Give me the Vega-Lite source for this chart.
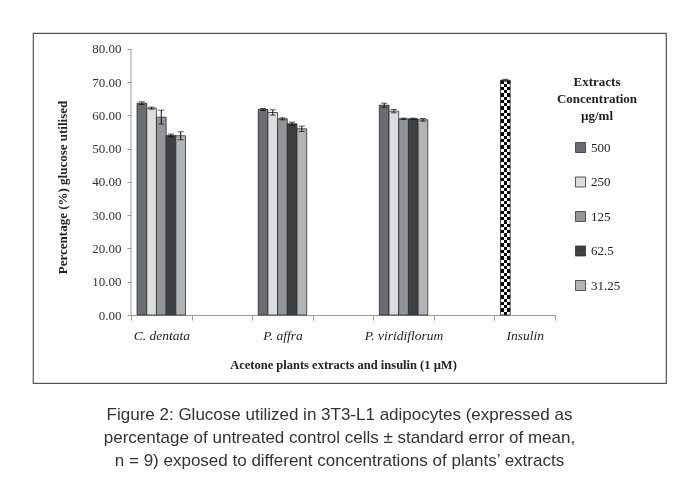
{
  "$schema": "https://vega.github.io/schema/vega-lite/v6.json",
  "width": 633,
  "height": 350,
  "autosize": {"type": "none"},
  "padding": {"left": 33, "top": 33, "right": 11, "bottom": 104},
  "background": "white",
  "config": {
    "view": {"stroke": "#555555", "strokeWidth": 1.2},
    "font": "Liberation Serif",
    "axis": {"grid": false, "labelFont": "Liberation Serif", "titleFont": "Liberation Serif"},
    "legend": {"labelFont": "Liberation Serif", "titleFont": "Liberation Serif"}
  },
  "title": {
    "text": [
      "Figure 2: Glucose utilized in 3T3-L1 adipocytes (expressed as",
      "percentage of untreated control cells ± standard error of mean,",
      "n = 9) exposed to different concentrations of plants’ extracts"
    ],
    "orient": "bottom",
    "anchor": "middle",
    "frame": "group",
    "offset": 24,
    "dx": -10,
    "font": "Liberation Sans",
    "fontSize": 17,
    "fontWeight": "normal",
    "color": "#333333",
    "lineHeight": 23
  },
  "data": {
    "values": [
      {"extract": "C. dentata", "conc": "500", "value": 63.7, "lo": 63.3, "hi": 64.1},
      {"extract": "C. dentata", "conc": "250", "value": 62.2, "lo": 61.9, "hi": 62.5},
      {"extract": "C. dentata", "conc": "125", "value": 59.5, "lo": 57.4, "hi": 61.6},
      {"extract": "C. dentata", "conc": "62.5", "value": 54.0, "lo": 53.6, "hi": 54.4},
      {"extract": "C. dentata", "conc": "31.25", "value": 53.9, "lo": 52.7, "hi": 55.1},
      {"extract": "P. affra", "conc": "500", "value": 61.8, "lo": 61.5, "hi": 62.1},
      {"extract": "P. affra", "conc": "250", "value": 60.9, "lo": 60.1, "hi": 61.7},
      {"extract": "P. affra", "conc": "125", "value": 59.0, "lo": 58.7, "hi": 59.3},
      {"extract": "P. affra", "conc": "62.5", "value": 57.5, "lo": 57.0, "hi": 58.0},
      {"extract": "P. affra", "conc": "31.25", "value": 56.0, "lo": 55.2, "hi": 56.8},
      {"extract": "P. viridiflorum", "conc": "500", "value": 63.1, "lo": 62.5, "hi": 63.7},
      {"extract": "P. viridiflorum", "conc": "250", "value": 61.3, "lo": 60.8, "hi": 61.8},
      {"extract": "P. viridiflorum", "conc": "125", "value": 59.0, "lo": 58.8, "hi": 59.2},
      {"extract": "P. viridiflorum", "conc": "62.5", "value": 59.0, "lo": 58.8, "hi": 59.2},
      {"extract": "P. viridiflorum", "conc": "31.25", "value": 58.7, "lo": 58.3, "hi": 59.1},
      {"extract": "Insulin", "conc": "500", "value": 70.6, "lo": 70.3, "hi": 70.9}
    ]
  },
  "encoding": {
    "x": {
      "field": "extract",
      "type": "nominal",
      "title": "Acetone plants extracts and insulin (1 µM)",
      "scale": {
        "domain": ["C. dentata", " ", "P. affra", "  ", "P. viridiflorum", "   ", "Insulin"],
        "range": [98, 522],
        "paddingInner": 0,
        "paddingOuter": 0
      },
      "axis": {
        "orient": "bottom",
        "offset": -68,
        "tickBand": "extent",
        "labelAngle": 0,
        "labelFontSize": 13.5,
        "labelFontStyle": "italic",
        "labelColor": "#222222",
        "labelPadding": 8,
        "tickSize": 5,
        "tickColor": "#999999",
        "domainColor": "#999999",
        "titleFontSize": 12.5,
        "titleFontWeight": "bold",
        "titleColor": "#222222",
        "titleY": 49,
        "titleBaseline": "middle"
      }
    },
    "xOffset": {
      "field": "conc", "type": "nominal",
      "scale": {"domain": ["500", "250", "125", "62.5", "31.25"], "paddingInner": 0, "paddingOuter": 0.625}
    },
    "y": {
      "field": "value",
      "type": "quantitative",
      "title": "Percentage (%) glucose utilised",
      "scale": {"domain": [-20.45, 84.81], "nice": false, "zero": false},
      "axis": {
        "orient": "left",
        "offset": -98,
        "domain": false,
        "values": [0, 10, 20, 30, 40, 50, 60, 70, 80],
        "format": ".2f",
        "labelFontSize": 13,
        "labelColor": "#333333",
        "labelPadding": 6,
        "tickSize": 4,
        "tickColor": "#999999",
        "titleFontSize": 13,
        "titleFontWeight": "bold",
        "titleColor": "#222222",
        "titlePadding": 22,
        "titleY": 154
      }
    }
  },
  "layer": [
    {
      "transform": [{"filter": "datum.extract !== 'Insulin'"}],
      "mark": {"type": "bar", "stroke": "#2d2d2d", "strokeWidth": 0.8},
      "encoding": {
        "y2": {"datum": 0},
        "color": {
          "field": "conc",
          "type": "nominal",
          "scale": {
            "domain": ["500", "250", "125", "62.5", "31.25"],
            "range": ["#6c6d70", "#dcdddf", "#939497", "#3f4042", "#b3b4b6"]
          },
          "legend": {
            "title": ["Extracts", "Concentration", "µg/ml"],
            "orient": "none",
            "legendX": 524,
            "legendY": 43,
            "titleFontSize": 13,
            "titleFontWeight": "bold",
            "titleColor": "#222222",
            "titleAlign": "center",
            "titleAnchor": "middle",
            "titleLineHeight": 17,
            "titlePadding": 18,
            "labelFontSize": 13,
            "labelColor": "#222222",
            "labelOffset": 4,
            "symbolType": "square",
            "symbolSize": 100,
            "symbolStrokeColor": "#333333",
            "symbolStrokeWidth": 0.8,
            "rowPadding": 19.5
          }
        }
      }
    },
    {
      "transform": [{"filter": "datum.extract === 'Insulin'"}],
      "mark": {
        "type": "bar",
        "strokeWidth": 0,
        "fill": {
          "gradient": "linear", "x1": 0, "y1": 0, "x2": 0, "y2": 1,
          "stops": [
            {"offset": 0, "color": "#000"}, {"offset": 0.0139, "color": "#000"},
            {"offset": 0.0139, "color": "#fff"}, {"offset": 0.0278, "color": "#fff"},
            {"offset": 0.0278, "color": "#000"}, {"offset": 0.0417, "color": "#000"},
            {"offset": 0.0417, "color": "#fff"}, {"offset": 0.0556, "color": "#fff"},
            {"offset": 0.0556, "color": "#000"}, {"offset": 0.0694, "color": "#000"},
            {"offset": 0.0694, "color": "#fff"}, {"offset": 0.0833, "color": "#fff"},
            {"offset": 0.0833, "color": "#000"}, {"offset": 0.0972, "color": "#000"},
            {"offset": 0.0972, "color": "#fff"}, {"offset": 0.1111, "color": "#fff"},
            {"offset": 0.1111, "color": "#000"}, {"offset": 0.125, "color": "#000"},
            {"offset": 0.125, "color": "#fff"}, {"offset": 0.1389, "color": "#fff"},
            {"offset": 0.1389, "color": "#000"}, {"offset": 0.1528, "color": "#000"},
            {"offset": 0.1528, "color": "#fff"}, {"offset": 0.1667, "color": "#fff"},
            {"offset": 0.1667, "color": "#000"}, {"offset": 0.1806, "color": "#000"},
            {"offset": 0.1806, "color": "#fff"}, {"offset": 0.1944, "color": "#fff"},
            {"offset": 0.1944, "color": "#000"}, {"offset": 0.2083, "color": "#000"},
            {"offset": 0.2083, "color": "#fff"}, {"offset": 0.2222, "color": "#fff"},
            {"offset": 0.2222, "color": "#000"}, {"offset": 0.2361, "color": "#000"},
            {"offset": 0.2361, "color": "#fff"}, {"offset": 0.25, "color": "#fff"},
            {"offset": 0.25, "color": "#000"}, {"offset": 0.2639, "color": "#000"},
            {"offset": 0.2639, "color": "#fff"}, {"offset": 0.2778, "color": "#fff"},
            {"offset": 0.2778, "color": "#000"}, {"offset": 0.2917, "color": "#000"},
            {"offset": 0.2917, "color": "#fff"}, {"offset": 0.3056, "color": "#fff"},
            {"offset": 0.3056, "color": "#000"}, {"offset": 0.3194, "color": "#000"},
            {"offset": 0.3194, "color": "#fff"}, {"offset": 0.3333, "color": "#fff"},
            {"offset": 0.3333, "color": "#000"}, {"offset": 0.3472, "color": "#000"},
            {"offset": 0.3472, "color": "#fff"}, {"offset": 0.3611, "color": "#fff"},
            {"offset": 0.3611, "color": "#000"}, {"offset": 0.375, "color": "#000"},
            {"offset": 0.375, "color": "#fff"}, {"offset": 0.3889, "color": "#fff"},
            {"offset": 0.3889, "color": "#000"}, {"offset": 0.4028, "color": "#000"},
            {"offset": 0.4028, "color": "#fff"}, {"offset": 0.4167, "color": "#fff"},
            {"offset": 0.4167, "color": "#000"}, {"offset": 0.4306, "color": "#000"},
            {"offset": 0.4306, "color": "#fff"}, {"offset": 0.4444, "color": "#fff"},
            {"offset": 0.4444, "color": "#000"}, {"offset": 0.4583, "color": "#000"},
            {"offset": 0.4583, "color": "#fff"}, {"offset": 0.4722, "color": "#fff"},
            {"offset": 0.4722, "color": "#000"}, {"offset": 0.4861, "color": "#000"},
            {"offset": 0.4861, "color": "#fff"}, {"offset": 0.5, "color": "#fff"},
            {"offset": 0.5, "color": "#000"}, {"offset": 0.5139, "color": "#000"},
            {"offset": 0.5139, "color": "#fff"}, {"offset": 0.5278, "color": "#fff"},
            {"offset": 0.5278, "color": "#000"}, {"offset": 0.5417, "color": "#000"},
            {"offset": 0.5417, "color": "#fff"}, {"offset": 0.5556, "color": "#fff"},
            {"offset": 0.5556, "color": "#000"}, {"offset": 0.5694, "color": "#000"},
            {"offset": 0.5694, "color": "#fff"}, {"offset": 0.5833, "color": "#fff"},
            {"offset": 0.5833, "color": "#000"}, {"offset": 0.5972, "color": "#000"},
            {"offset": 0.5972, "color": "#fff"}, {"offset": 0.6111, "color": "#fff"},
            {"offset": 0.6111, "color": "#000"}, {"offset": 0.625, "color": "#000"},
            {"offset": 0.625, "color": "#fff"}, {"offset": 0.6389, "color": "#fff"},
            {"offset": 0.6389, "color": "#000"}, {"offset": 0.6528, "color": "#000"},
            {"offset": 0.6528, "color": "#fff"}, {"offset": 0.6667, "color": "#fff"},
            {"offset": 0.6667, "color": "#000"}, {"offset": 0.6806, "color": "#000"},
            {"offset": 0.6806, "color": "#fff"}, {"offset": 0.6944, "color": "#fff"},
            {"offset": 0.6944, "color": "#000"}, {"offset": 0.7083, "color": "#000"},
            {"offset": 0.7083, "color": "#fff"}, {"offset": 0.7222, "color": "#fff"},
            {"offset": 0.7222, "color": "#000"}, {"offset": 0.7361, "color": "#000"},
            {"offset": 0.7361, "color": "#fff"}, {"offset": 0.75, "color": "#fff"},
            {"offset": 0.75, "color": "#000"}, {"offset": 0.7639, "color": "#000"},
            {"offset": 0.7639, "color": "#fff"}, {"offset": 0.7778, "color": "#fff"},
            {"offset": 0.7778, "color": "#000"}, {"offset": 0.7917, "color": "#000"},
            {"offset": 0.7917, "color": "#fff"}, {"offset": 0.8056, "color": "#fff"},
            {"offset": 0.8056, "color": "#000"}, {"offset": 0.8194, "color": "#000"},
            {"offset": 0.8194, "color": "#fff"}, {"offset": 0.8333, "color": "#fff"},
            {"offset": 0.8333, "color": "#000"}, {"offset": 0.8472, "color": "#000"},
            {"offset": 0.8472, "color": "#fff"}, {"offset": 0.8611, "color": "#fff"},
            {"offset": 0.8611, "color": "#000"}, {"offset": 0.875, "color": "#000"},
            {"offset": 0.875, "color": "#fff"}, {"offset": 0.8889, "color": "#fff"},
            {"offset": 0.8889, "color": "#000"}, {"offset": 0.9028, "color": "#000"},
            {"offset": 0.9028, "color": "#fff"}, {"offset": 0.9167, "color": "#fff"},
            {"offset": 0.9167, "color": "#000"}, {"offset": 0.9306, "color": "#000"},
            {"offset": 0.9306, "color": "#fff"}, {"offset": 0.9444, "color": "#fff"},
            {"offset": 0.9444, "color": "#000"}, {"offset": 0.9583, "color": "#000"},
            {"offset": 0.9583, "color": "#fff"}, {"offset": 0.9722, "color": "#fff"},
            {"offset": 0.9722, "color": "#000"}, {"offset": 0.9861, "color": "#000"},
            {"offset": 0.9861, "color": "#fff"}, {"offset": 1, "color": "#fff"}
          ]
        }
      },
      "encoding": {"y2": {"datum": 0}}
    },
    {
      "transform": [{"filter": "datum.extract === 'Insulin'"}],
      "mark": {
        "type": "bar",
        "strokeWidth": 0,
        "blend": "difference",
        "fill": {
          "gradient": "linear", "x1": 0, "y1": 0, "x2": 1, "y2": 0,
          "stops": [
            {"offset": 0, "color": "#000"}, {"offset": 0.3333, "color": "#000"},
            {"offset": 0.3333, "color": "#fff"}, {"offset": 0.6667, "color": "#fff"},
            {"offset": 0.6667, "color": "#000"}, {"offset": 1, "color": "#000"}
          ]
        }
      },
      "encoding": {"y2": {"datum": 0}}
    },
    {
      "transform": [{"filter": "datum.extract === 'Insulin'"}],
      "mark": {"type": "bar", "fill": "transparent", "stroke": "#222222", "strokeWidth": 0.8},
      "encoding": {"y2": {"datum": 0}}
    },
    {
      "mark": {"type": "rule", "color": "#111111", "strokeWidth": 1},
      "encoding": {
        "y": {"field": "lo", "type": "quantitative"},
        "y2": {"field": "hi"}
      }
    },
    {
      "mark": {"type": "tick", "size": 6, "thickness": 1, "color": "#111111"},
      "encoding": {
        "y": {"field": "lo", "type": "quantitative"}
      }
    },
    {
      "mark": {"type": "tick", "size": 6, "thickness": 1, "color": "#111111"},
      "encoding": {
        "y": {"field": "hi", "type": "quantitative"}
      }
    },
    {
      "transform": [{"filter": "datum.extract === 'Insulin'"}],
      "mark": {"type": "rule", "color": "#999999", "strokeWidth": 1},
      "encoding": {
        "x": {"datum": "C. dentata", "type": "nominal", "bandPosition": 0},
        "xOffset": {"value": 0},
        "y": {"datum": 0, "type": "quantitative"},
        "y2": {"datum": 80}
      }
    }
  ]
}
